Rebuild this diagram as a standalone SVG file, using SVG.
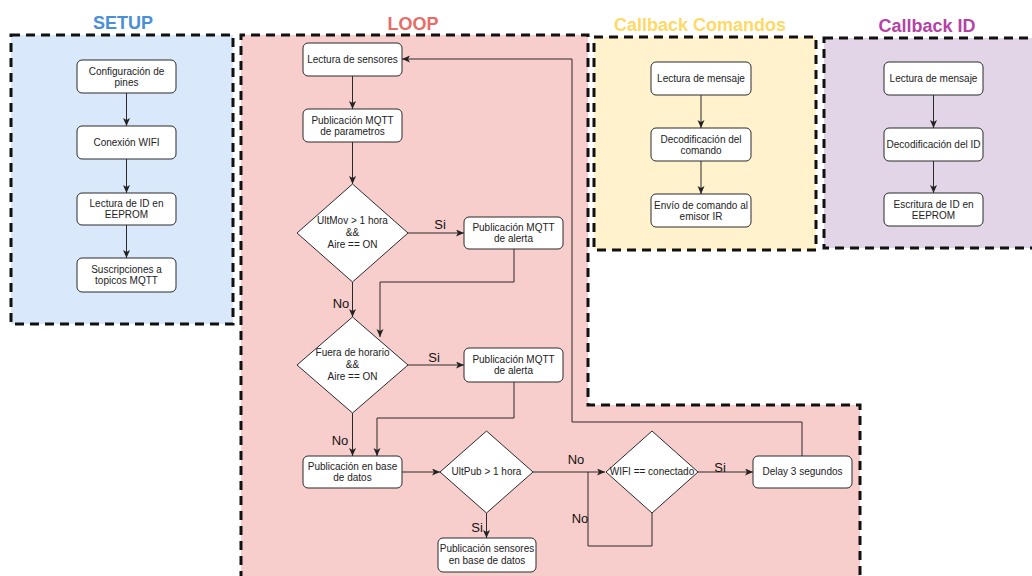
<svg xmlns="http://www.w3.org/2000/svg" width="1032" height="576" viewBox="0 0 1032 576">
  <defs>
    <marker id="arrow" markerUnits="userSpaceOnUse" markerWidth="9" markerHeight="8" refX="8" refY="3.5" orient="auto">
      <path d="M0,0 L8,3.5 L0,7 L2,3.5 z" fill="#222"/>
    </marker>
    <style>
      .zone { stroke: #111; stroke-width: 3; stroke-dasharray: 9 6; }
      .title { font-family: "Liberation Sans", Arial, sans-serif; font-size: 18px; font-weight: bold; text-anchor: middle; }
      .box { fill: #fff; stroke: #2a2a2a; stroke-width: 1; }
      .txt { font-family: "Liberation Sans", Arial, sans-serif; font-size: 10px; fill: #222; text-anchor: middle; }
      .lbl { font-family: "Liberation Sans", Arial, sans-serif; font-size: 13px; fill: #111; text-anchor: middle; }
      .edge { fill: none; stroke: #2a2a2a; stroke-width: 1; }
      .arr { marker-end: url(#arrow); }
    </style>
  </defs>

  <rect width="1032" height="576" fill="#fff"/>

  <!-- zones -->
  <g id="zone-setup">
    <rect class="zone" x="11" y="35" width="222" height="289" fill="#dae8fc"/>
    <text class="title" x="123" y="29" fill="#4a8fd8">SETUP</text>
  </g>
  <g id="zone-loop">
    <path class="zone" d="M241,580 V35 H588 V405 H860 V580" fill="#f8cecc"/>
    <text class="title" x="413" y="30" fill="#ea6b66">LOOP</text>
  </g>
  <g id="zone-cb-comandos">
    <rect class="zone" x="594" y="37" width="222" height="213" fill="#fff2cc"/>
    <text class="title" x="700" y="31" fill="#ffd966">Callback Comandos</text>
  </g>
  <g id="zone-cb-id">
    <rect class="zone" x="824" y="38" width="220" height="210" fill="#e1d5e7"/>
    <text class="title" x="927" y="32" fill="#b443a4">Callback ID</text>
  </g>

  <!-- connectors -->
  <g id="connectors">
    <path class="edge arr" d="M126.5,93 V126"/>
    <path class="edge arr" d="M126.5,159 V193"/>
    <path class="edge arr" d="M126.5,225 V258"/>

    <path class="edge arr" d="M352.5,76 V109"/>
    <path class="edge arr" d="M352.5,142 V184"/>
    <path class="edge arr" d="M408,233 H464"/>
    <path class="edge arr" d="M352.5,282 V317"/>
    <path class="edge arr" d="M514,249 V282 H380 V337"/>
    <path class="edge arr" d="M408,365 H464"/>
    <path class="edge arr" d="M514,382 V418 H377 V456"/>
    <path class="edge arr" d="M352.5,413 V456"/>
    <path class="edge arr" d="M402,472 H440"/>
    <path class="edge arr" d="M486.5,513 V538"/>
    <path class="edge arr" d="M533,472 H605"/>
    <path class="edge" d="M652,513 V546 H588 V472"/>
    <path class="edge arr" d="M698,472 H753"/>
    <path class="edge arr" d="M802,456 V422 H572 V59 H402"/>

    <path class="edge arr" d="M701,95 V128"/>
    <path class="edge arr" d="M701,161 V194"/>
    <path class="edge arr" d="M933.5,95 V128"/>
    <path class="edge arr" d="M933.5,161 V193"/>

    <text class="lbl" x="440" y="229">Si</text>
    <text class="lbl" x="434" y="362">Si</text>
    <text class="lbl" x="341" y="308">No</text>
    <text class="lbl" x="340" y="445">No</text>
    <text class="lbl" x="477" y="532">Si</text>
    <text class="lbl" x="576" y="464">No</text>
    <text class="lbl" x="580" y="523">No</text>
    <text class="lbl" x="720" y="472">Si</text>
  </g>

  <!-- SETUP nodes -->
  <g id="setup-pines">
    <rect class="box" x="77" y="60" width="99" height="33" rx="5"/>
    <text class="txt" x="126.5" y="75">Configuración de</text>
    <text class="txt" x="126.5" y="86">pines</text>
  </g>
  <g id="setup-wifi">
    <rect class="box" x="77" y="126" width="99" height="33" rx="5"/>
    <text class="txt" x="126.5" y="146">Conexión WIFI</text>
  </g>
  <g id="setup-id">
    <rect class="box" x="77" y="193" width="99" height="32" rx="5"/>
    <text class="txt" x="126.5" y="207">Lectura de ID en</text>
    <text class="txt" x="126.5" y="218">EEPROM</text>
  </g>
  <g id="setup-topics">
    <rect class="box" x="77" y="258" width="99" height="34" rx="5"/>
    <text class="txt" x="126.5" y="273">Suscripciones a</text>
    <text class="txt" x="126.5" y="284">topicos MQTT</text>
  </g>

  <!-- LOOP nodes -->
  <g id="loop-sensores">
    <rect class="box" x="303" y="43" width="99" height="33" rx="5"/>
    <text class="txt" x="352.5" y="63">Lectura de sensores</text>
  </g>
  <g id="loop-parametros">
    <rect class="box" x="303" y="109" width="99" height="33" rx="5"/>
    <text class="txt" x="352.5" y="124">Publicación MQTT</text>
    <text class="txt" x="352.5" y="135">de parametros</text>
  </g>
  <g id="loop-ultmov">
    <path class="box" d="M352.5,184 L408,233 L352.5,282 L297,233 Z"/>
    <text class="txt" x="352.5" y="224">UltMov &gt; 1 hora</text>
    <text class="txt" x="352.5" y="236">&amp;&amp;</text>
    <text class="txt" x="352.5" y="248">Aire == ON</text>
  </g>
  <g id="loop-alerta-1">
    <rect class="box" x="464" y="217" width="99" height="32" rx="5"/>
    <text class="txt" x="513.5" y="231">Publicación MQTT</text>
    <text class="txt" x="513.5" y="242">de alerta</text>
  </g>
  <g id="loop-horario">
    <path class="box" d="M352.5,317 L408,365 L352.5,413 L297,365 Z"/>
    <text class="txt" x="352.5" y="356">Fuera de horario</text>
    <text class="txt" x="352.5" y="368">&amp;&amp;</text>
    <text class="txt" x="352.5" y="380">Aire == ON</text>
  </g>
  <g id="loop-alerta-2">
    <rect class="box" x="464" y="348" width="99" height="34" rx="5"/>
    <text class="txt" x="513.5" y="363">Publicación MQTT</text>
    <text class="txt" x="513.5" y="374">de alerta</text>
  </g>
  <g id="loop-base-datos">
    <rect class="box" x="303" y="456" width="99" height="32" rx="5"/>
    <text class="txt" x="352.5" y="470">Publicación en base</text>
    <text class="txt" x="352.5" y="481">de datos</text>
  </g>
  <g id="loop-ultpub">
    <path class="box" d="M486.5,431 L533,472 L486.5,513 L440,472 Z"/>
    <text class="txt" x="486.5" y="475">UltPub &gt; 1 hora</text>
  </g>
  <g id="loop-sensores-bd">
    <rect class="box" x="438" y="538" width="98" height="34" rx="5"/>
    <text class="txt" x="487" y="552">Publicación sensores</text>
    <text class="txt" x="487" y="564">en base de datos</text>
  </g>
  <g id="loop-wifi">
    <path class="box" d="M652,431 L698,472 L652,513 L606,472 Z"/>
    <text class="txt" x="652" y="475">WIFI == conectado</text>
  </g>
  <g id="loop-delay">
    <rect class="box" x="753" y="456" width="99" height="32" rx="5"/>
    <text class="txt" x="802.5" y="475">Delay 3 segundos</text>
  </g>

  <!-- Callback Comandos nodes -->
  <g id="cmd-lectura">
    <rect class="box" x="651" y="62" width="100" height="33" rx="5"/>
    <text class="txt" x="701" y="82">Lectura de mensaje</text>
  </g>
  <g id="cmd-decod">
    <rect class="box" x="651" y="128" width="100" height="33" rx="5"/>
    <text class="txt" x="701" y="143">Decodificación del</text>
    <text class="txt" x="701" y="154">comando</text>
  </g>
  <g id="cmd-envio">
    <rect class="box" x="651" y="194" width="100" height="33" rx="5"/>
    <text class="txt" x="701" y="209">Envío de comando al</text>
    <text class="txt" x="701" y="220">emisor IR</text>
  </g>

  <!-- Callback ID nodes -->
  <g id="id-lectura">
    <rect class="box" x="884" y="62" width="99" height="33" rx="5"/>
    <text class="txt" x="933.5" y="82">Lectura de mensaje</text>
  </g>
  <g id="id-decod">
    <rect class="box" x="884" y="128" width="99" height="33" rx="5"/>
    <text class="txt" x="933.5" y="148">Decodificación del ID</text>
  </g>
  <g id="id-escritura">
    <rect class="box" x="884" y="193" width="99" height="33" rx="5"/>
    <text class="txt" x="933.5" y="208">Escritura de ID en</text>
    <text class="txt" x="933.5" y="219">EEPROM</text>
  </g>
</svg>
